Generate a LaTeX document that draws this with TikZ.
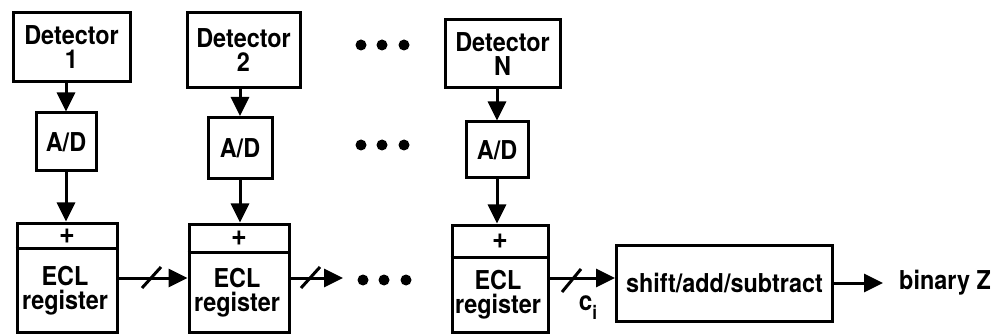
\documentclass[tikz,border=0pt]{standalone}
\usepackage{fontspec}
\setmainfont{TeX Gyre Heros}[FakeStretch=0.9]
\usetikzlibrary{arrows.meta,calc}
\tikzset{
  blk/.style={draw, line width=3pt, inner sep=0pt, align=center, font=\fontsize{26}{24}\selectfont\bfseries},
  lbl/.style={inner sep=0pt, align=center, font=\fontsize{26}{24}\selectfont\bfseries},
  arr/.style={line width=3pt, -{Triangle[length=19pt,width=18pt]}},
  wire/.style={line width=3pt},
  dot/.style={fill=black}
}
\begin{document}
\begin{tikzpicture}[x=1pt,y=-1pt]
\useasboundingbox (0,0) rectangle (994,334);
% detectors
\node[blk, minimum width=117pt, minimum height=69pt] (det1) at (71.5,47.5) {Detector\\1};
\node[blk, minimum width=113pt, minimum height=75pt] (det2) at (243.5,50.5) {Detector\\2};
\node[blk, minimum width=115pt, minimum height=68pt] (detN) at (502.5,54) {Detector\\N};
% A/D
\node[blk, minimum width=60pt, minimum height=58pt] (ad1) at (66,142) {A/D};
\node[blk, minimum width=64pt, minimum height=61pt] (ad2) at (240,148) {A/D};
\node[blk, minimum width=62pt, minimum height=56pt] (adN) at (497,150) {A/D};
% registers
\node[blk, minimum width=100pt, minimum height=109pt] (reg1) at (67,277.5) {};
\node[blk, minimum width=100pt, minimum height=108pt] (reg2) at (239,278) {};
\node[blk, minimum width=96pt, minimum height=107pt] (regN) at (500,278.5) {};
\coordinate (d1) at (0,248);
\coordinate (d2) at (0,252);
\coordinate (dN) at (0,257);
\draw[wire] (reg1.west |- d1) -- (reg1.east |- d1);
\draw[wire] (reg2.west |- d2) -- (reg2.east |- d2);
\draw[wire] (regN.west |- dN) -- (regN.east |- dN);
\node[lbl, font=\fontsize{30}{30}\selectfont\bfseries] (p1) at (67,236) {+};
\node[lbl, font=\fontsize{30}{30}\selectfont\bfseries] (p2) at (239,238.5) {+};
\node[lbl, font=\fontsize{30}{30}\selectfont\bfseries] (pN) at (500,241.5) {+};
\node[lbl] (t1) at (65,291) {ECL\\register};
\node[lbl] (t2) at (237,293) {ECL\\register};
\node[lbl] (tN) at (498,295) {ECL\\register};
% shift/add/subtract
\node[blk, minimum width=216pt, minimum height=76pt] (sas) at (724.5,283) {shift/add/subtract};
\node[lbl, anchor=west] (bz) at (899,283) {binary Z};
% vertical arrows
\draw[arr] (det1.south -| ad1) -- (ad1.north);
\draw[arr] (det2.south -| ad2) -- (ad2.north);
\draw[arr] (detN.south -| adN) -- (adN.north);
\draw[arr] (ad1.south) -- (ad1.south |- reg1.north);
\draw[arr] (ad2.south) -- (ad2.south |- reg2.north);
\draw[arr] (adN.south) -- (adN.south |- regN.north);
% horizontal buses
\coordinate (h) at (0,278);
\coordinate (e2) at (343,278);
\draw[arr] (reg1.east |- h) -- (reg2.west |- h);
\draw[arr] (reg2.east |- h) -- (e2);
\draw[arr] (regN.east |- h) -- (sas.west |- h);
\draw[arr] (sas.east |- bz) -- ($(bz.west) + (-16,0)$);
% bus slashes
\draw[wire] (142,288) -- (161,267);
\draw[wire] (301,288) -- (320,267);
\draw[wire] (562,292) -- (581,269);
\node[inner sep=0pt, font=\fontsize{27}{27}\selectfont\bfseries] (ci) at (588,308) {c\raisebox{-9pt}{\fontsize{19}{19}\selectfont i}};
% ellipsis dots
\foreach \x in {361,382,404} {
  \fill[dot] (\x,45) circle (5.5);
  \fill[dot] (\x,145) circle (5.5);
  \fill[dot] (\x+2,280) circle (5.5);
}
\end{tikzpicture}
\end{document}
